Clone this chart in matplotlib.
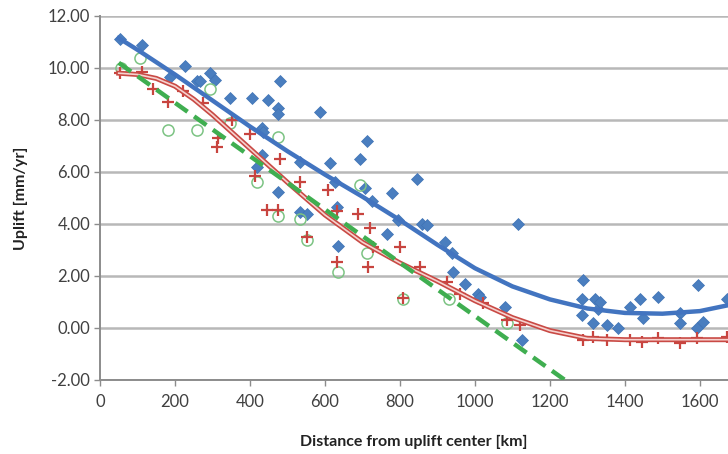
import matplotlib
matplotlib.use("Agg")
import matplotlib.pyplot as plt
from matplotlib.ticker import FormatStrFormatter

plt.rcParams['font.family'] = ['Lato', 'DejaVu Sans']

# observed uplift, blue diamonds
blue_x = [53, 112, 187, 227, 259, 267, 293, 307, 347, 405, 432, 435, 418, 432, 448, 475, 475, 480,
          475, 533, 533, 552, 587, 613, 627, 632, 635, 693, 712, 707, 725, 765, 778, 795, 845, 859,
          872, 920, 939, 941, 973, 1008, 1013, 1080, 1115, 1125, 1285, 1288, 1285, 1315, 1320,
          1328, 1333, 1352, 1382, 1413, 1440, 1448, 1488, 1547, 1547, 1592, 1595, 1608, 1672]
blue_y = [11.1, 10.9, 9.65, 10.08, 9.5, 9.5, 9.8, 9.55, 8.85, 8.85, 7.7, 7.55, 6.2, 6.65, 8.77, 8.45,
          8.25, 9.5, 5.23, 6.4, 4.45, 4.4, 8.3, 6.35, 5.6, 4.65, 3.15, 6.5, 7.2, 5.4, 4.9, 3.6, 5.2,
          4.15, 5.75, 4.0, 3.95, 3.3, 2.9, 2.15, 1.7, 1.3, 1.2, 0.8, 4.0, -0.45, 1.1, 1.85, 0.5, 0.2,
          1.1, 0.75, 1.0, 0.1, 0.0, 0.8, 1.1, 0.4, 1.2, 0.57, 0.2, 0.0, 1.65, 0.25, 1.1]

# model A, red plus markers
red_x = [53, 112, 141, 181, 221, 275, 312, 315, 352, 400, 413, 445, 475, 480, 533, 552, 608, 632,
         632, 688, 715, 720, 728, 800, 808, 853, 925, 960, 1021, 1085, 1120, 1288, 1315, 1352,
         1413, 1445, 1488, 1547, 1592, 1672]
red_y = [9.8, 9.85, 9.2, 8.7, 9.1, 8.65, 6.95, 7.3, 8.0, 7.45, 5.85, 4.55, 4.55, 6.5, 5.6, 3.5,
         5.3, 4.5, 2.55, 4.4, 2.35, 3.85, 3.1, 3.1, 1.15, 2.35, 1.77, 1.3, 0.96, 0.3, 0.12, -0.46,
         -0.35, -0.45, -0.46, -0.55, -0.4, -0.58, -0.38, -0.36]

# model B, green open circles
green_x = [55, 107, 181, 259, 293, 347, 418, 475, 475, 533, 552, 635, 693, 712, 808, 930, 1085]
green_y = [10.0, 10.4, 7.6, 7.6, 9.2, 7.9, 5.6, 7.35, 4.3, 4.2, 3.4, 2.15, 5.5, 2.9, 1.1, 1.1, 0.2]

# trend curves
blue_fit_x = [50, 100, 200, 300, 400, 500, 600, 700, 800, 900, 1000, 1100, 1200, 1300, 1400, 1500, 1600, 1700]
blue_fit_y = [11.15, 10.7, 9.75, 8.75, 7.75, 6.8, 5.9, 5.05, 4.15, 3.2, 2.3, 1.6, 1.1, 0.75, 0.58, 0.55, 0.65, 0.95]
red_fit_x = [50, 100, 150, 200, 250, 300, 400, 500, 600, 700, 800, 900, 1000, 1100, 1200, 1300, 1400, 1500, 1600, 1700]
red_fit_y = [9.8, 9.75, 9.6, 9.3, 8.8, 8.2, 6.9, 5.6, 4.35, 3.3, 2.5, 1.8, 1.05, 0.4, -0.1, -0.4, -0.45, -0.45, -0.45, -0.45]
green_fit_x = [50, 1240]
green_fit_y = [10.2, -2.0]

fig = plt.figure(figsize=(7.28, 4.54), dpi=100)
ax = fig.add_axes([100 / 728, 74 / 454, 1 - 100 / 728, 364 / 454])

ax.set_xlim(0, 1675)
ax.set_ylim(-2, 12)
ax.set_xticks(range(0, 1700, 200))
ax.set_yticks(range(-2, 13, 2))
ax.yaxis.set_major_formatter(FormatStrFormatter('%.2f'))
ax.grid(axis='y', color='#b8b8b8', lw=1.8)
ax.set_axisbelow(True)
for s in ['top', 'right']:
    ax.spines[s].set_visible(False)
for s in ['left', 'bottom']:
    ax.spines[s].set_color('#8c8c8c')
    ax.spines[s].set_linewidth(1.4)
ax.tick_params(colors='#8c8c8c', labelcolor='#404040', labelsize=12, length=4, width=1)
ax.tick_params(axis='y', pad=3)
ax.tick_params(axis='x', pad=6)

ax.plot(blue_x, blue_y, 'D', color='#4a7ebf', ms=6, mec='#3f72b5', mew=0.5, zorder=3)
ax.plot(green_x, green_y, 'o', mfc='none', mec='#7cc383', ms=8, mew=1.1, zorder=3)
ax.plot(red_x, red_y, '+', color='#c8443f', ms=9, mew=1.6, zorder=4)

ax.plot(blue_fit_x, blue_fit_y, '-', color='#4274c0', lw=3.2, zorder=5)
ax.plot(red_fit_x, red_fit_y, '-', color='#c94a45', lw=3.6, zorder=5)
ax.plot(red_fit_x, red_fit_y, '-', color='#f6d2cf', lw=1.2, zorder=6)
ax.plot(green_fit_x, green_fit_y, '--', color='#3fae50', lw=3.2, dashes=(3.4, 1.8), zorder=6)

ax.set_xlabel('Distance from uplift center [km]', fontsize=11.5, fontweight='bold', color='#222222', labelpad=18)
ax.set_ylabel('Uplift [mm/yr]', fontsize=11.5, fontweight='bold', color='#222222', labelpad=14)

fig.savefig('out.png', dpi=100)
